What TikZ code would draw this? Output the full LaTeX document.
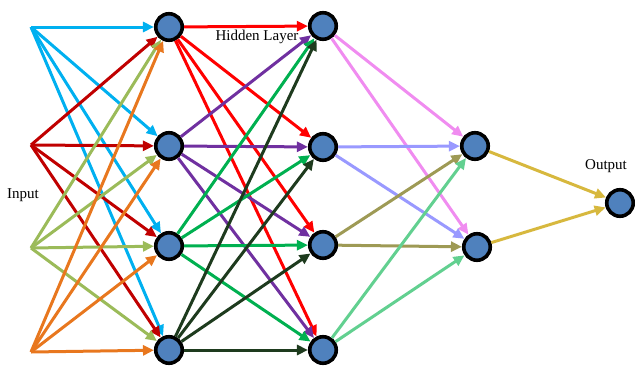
\documentclass[tikz,border=0pt]{standalone}
\usepackage{fontspec}
\setmainfont{Liberation Serif}
\usetikzlibrary{arrows.meta}

% neuron fill and link colours
\definecolor{nblue}{HTML}{4F81BD}
\definecolor{cIn}{HTML}{00B0F0}
\definecolor{cDred}{HTML}{C00000}
\definecolor{cLgreen}{HTML}{9BBB59}
\definecolor{cOrange}{HTML}{E8771E}
\definecolor{cRed}{HTML}{FF0000}
\definecolor{cPurple}{HTML}{7030A0}
\definecolor{cGreen}{HTML}{00B050}
\definecolor{cDgreen}{HTML}{1E3B1E}
\definecolor{cPink}{HTML}{F08CF0}
\definecolor{cLav}{HTML}{9999FF}
\definecolor{cOlive}{HTML}{9E9A55}
\definecolor{cMint}{HTML}{62D090}
\definecolor{cGold}{HTML}{D7B83E}

\begin{document}
\begin{tikzpicture}[x=1pt,y=-1pt,
  neuron/.style={circle,draw=black,line width=3.6pt,fill=nblue,
                 minimum size=26.5pt,inner sep=0pt},
  link/.style={line width=3pt,-{Triangle[length=11pt,width=10pt]}},
  lbl/.style={font=\fontsize{15}{18}\selectfont,inner sep=0pt}]
\useasboundingbox (0,0) rectangle (635,367);

% input points
\coordinate (i1) at (31,27);
\coordinate (i2) at (31,145);
\coordinate (i3) at (31,248);
\coordinate (i4) at (31,352);

% first hidden layer
\node[neuron] (a1) at (169,27) {};
\node[neuron] (a2) at (169,146) {};
\node[neuron] (a3) at (169,246) {};
\node[neuron] (a4) at (169,350) {};

% second hidden layer
\node[neuron] (b1) at (323,26) {};
\node[neuron] (b2) at (323,147) {};
\node[neuron] (b3) at (323,245) {};
\node[neuron] (b4) at (323,350) {};

% third layer
\node[neuron] (c1) at (475,146) {};
\node[neuron] (c2) at (477,247) {};

% output
\node[neuron] (o) at (620,203) {};

% labels
\node[lbl] (tin) at (23,195) {Input};
\node[lbl] (thid) at (257,37) {Hidden Layer};
\node[lbl] (tout) at (606,166) {Output};

% input -> first hidden layer
\foreach \s/\c in {1/cIn,2/cDred,3/cLgreen,4/cOrange}
  \foreach \t in {1,...,4}
    \draw[link,\c] (i\s) -- (a\t);

% first -> second hidden layer
\foreach \s/\c in {1/cRed,2/cPurple,3/cGreen,4/cDgreen}
  \foreach \t in {1,...,4}
    \draw[link,\c] (a\s) -- (b\t);

% second hidden layer -> third layer
\foreach \s/\c in {1/cPink,2/cLav,3/cOlive,4/cMint}
  \foreach \t in {1,2}
    \draw[link,\c] (b\s) -- (c\t);

% third layer -> output
\foreach \s in {1,2}
  \draw[link,cGold] (c\s) -- (o);
\end{tikzpicture}
\end{document}
